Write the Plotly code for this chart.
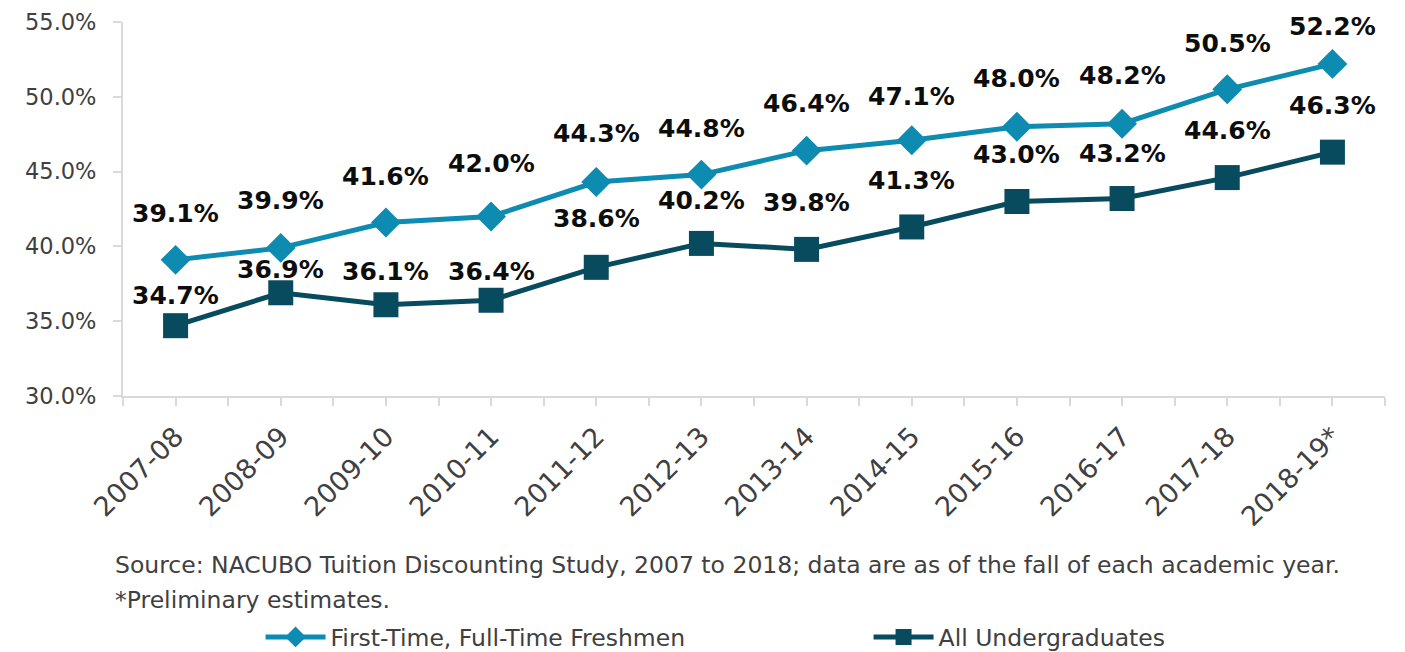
import plotly.graph_objects as go

categories = ["2007-08", "2008-09", "2009-10", "2010-11", "2011-12", "2012-13",
              "2013-14", "2014-15", "2015-16", "2016-17", "2017-18", "2018-19*"]
freshmen = [39.1, 39.9, 41.6, 42.0, 44.3, 44.8, 46.4, 47.1, 48.0, 48.2, 50.5, 52.2]
undergrads = [34.7, 36.9, 36.1, 36.4, 38.6, 40.2, 39.8, 41.3, 43.0, 43.2, 44.6, 46.3]

# label vertical offsets (pixels above each marker)
fresh_shift = [46, 47, 46, 53, 49, 46, 47, 44, 48, 48, 46, 37]
under_shift = [30, 23, 33, 29, 49, 43, 47, 46, 47, 45, 47, 47]

BLUE = "#0E8BB1"
DARK = "#084B5E"
FONT = "DejaVu Sans"

xs = list(range(len(categories)))

fig = go.Figure()
fig.add_trace(go.Scatter(
    x=xs, y=freshmen, mode="lines+markers", name="First-Time, Full-Time Freshmen",
    line=dict(color=BLUE, width=5),
    marker=dict(symbol="diamond", size=23, color=BLUE),
))
fig.add_trace(go.Scatter(
    x=xs, y=undergrads, mode="lines+markers", name="All Undergraduates",
    line=dict(color=DARK, width=5),
    marker=dict(symbol="square", size=25, color=DARK),
))

annotations = []
for series, shifts in ((freshmen, fresh_shift), (undergrads, under_shift)):
    for i, v in enumerate(series):
        annotations.append(dict(
            x=xs[i], y=v, xref="x", yref="y", text=f"{v:.1f}%", showarrow=False,
            yshift=shifts[i], font=dict(family=FONT, size=25, color="#0d0d0d", weight="bold"),
            xanchor="center", yanchor="middle",
        ))

annotations.append(dict(
    x=-0.008, y=-0.452, xref="paper", yref="paper", xanchor="left", yanchor="middle",
    text="Source: NACUBO Tuition Discounting Study, 2007 to 2018; data are as of the fall of each academic year.",
    showarrow=False, font=dict(family=FONT, size=23.5, color="#404040"),
))
annotations.append(dict(
    x=-0.008, y=-0.545, xref="paper", yref="paper", xanchor="left", yanchor="middle",
    text="*Preliminary estimates.",
    showarrow=False, font=dict(family=FONT, size=23.5, color="#404040"),
))

fig.update_layout(
    width=1405, height=652,
    margin=dict(l=115, r=28, t=14, b=264, autoexpand=False),
    plot_bgcolor="white", paper_bgcolor="white",
    annotations=annotations,
    showlegend=True,
    legend=dict(
        orientation="h", x=0.109, y=-0.586, xanchor="left", yanchor="top",
        font=dict(family=FONT, size=23.5, color="#404040"),
        entrywidth=533, entrywidthmode="pixels", itemwidth=60,
    ),
)
fig.update_xaxes(
    range=[-0.5, 11.5], tickvals=xs, ticktext=categories, tickangle=-45,
    showline=True, linecolor="#d9d9d9", linewidth=2, showgrid=False, zeroline=False,
    ticks="outside", ticklen=8, tickcolor="#d9d9d9", tickwidth=2,
    minor=dict(tickvals=[i - 0.5 for i in range(len(categories) + 1)], ticks="outside",
               ticklen=8, tickcolor="#d9d9d9", tickwidth=2, showgrid=False),
    tickfont=dict(family=FONT, size=27, color="#404040"),
    ticklabelstandoff=4, automargin=False,
)
fig.update_yaxes(
    range=[30, 55], dtick=5, tick0=30, tickformat=".1f", ticksuffix="%",
    showline=True, linecolor="#d9d9d9", linewidth=2, showgrid=False, zeroline=False,
    ticks="outside", ticklen=8, tickcolor="#d9d9d9", tickwidth=2,
    tickfont=dict(family=FONT, size=22.5, color="#404040"),
    ticklabelstandoff=12, automargin=False,
)

fig.write_html("out.html")
